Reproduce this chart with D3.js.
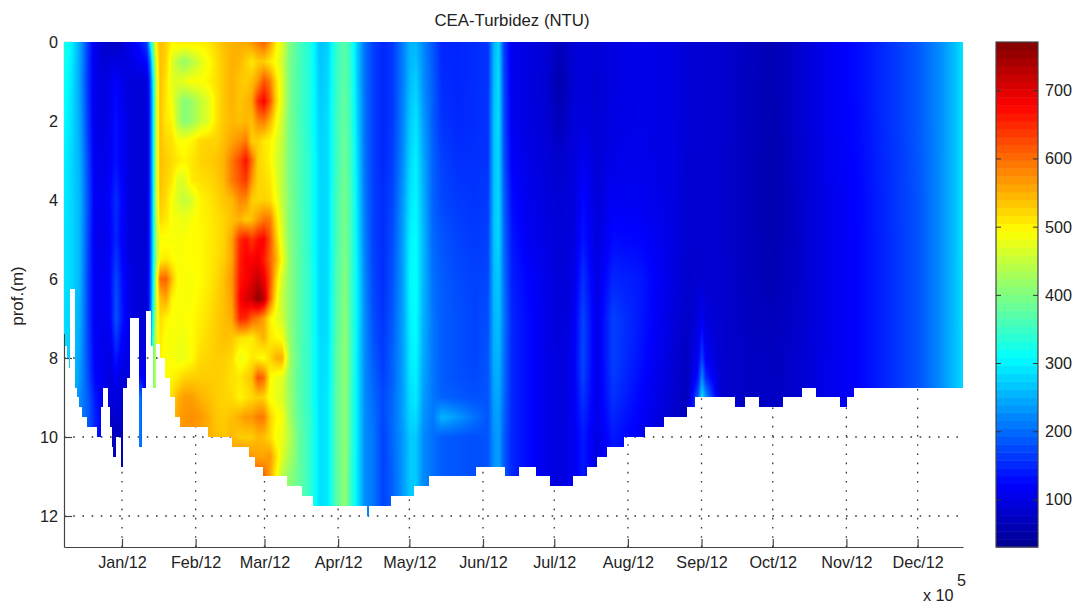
<!DOCTYPE html>
<html><head><meta charset="utf-8">
<script src="https://cdn.jsdelivr.net/npm/d3@7/dist/d3.min.js"></script>
<style>
html,body{margin:0;padding:0;background:#fff;}
#wrap{position:relative;width:1077px;height:606px;overflow:hidden;}
svg,canvas{position:absolute;left:0;top:0;}
text{font-family:"Liberation Sans",Arial,sans-serif;fill:#222;}
</style></head><body><div id="wrap"></div>
<script>
// ---- data: days are counted from 1 Jan 2012, depth in metres, values in NTU
const monthLabels = ["Jan/12","Feb/12","Mar/12","Apr/12","May/12","Jun/12","Jul/12","Aug/12","Sep/12","Oct/12","Nov/12","Dec/12"];
const monthDays = [0,31,60,91,121,152,182,213,244,274,305,335];
const depthTicks = [0,2,4,6,8,10,12];
const gridDepths = [2,4,6,8,10,12];
const colorTicks = [100,200,300,400,500,600,700];
const coarseDepths = [0,1,2,3,4,5,6,7,8,8.5,9,9.5,10,11,12];
const fineDepths = [0,.5,1,1.5,2,2.5,3,3.5,4,4.5,5,5.5,6,6.5,7,7.5,8,8.5,9,9.5,10,10.5,11,11.5,12];

const leftDays = [-24.4,-21.1,-17.7,-14.3,-11.4,-8,-5.1,-2.5,0,3.4,7.6,10.5];
const leftNtu = [
[330,320,310,300,295,290,290,285,285,285,285,285,285,285,285],
[300,290,285,280,280,280,280,275,270,270,265,260,260,260,260],
[245,240,245,250,255,255,255,250,240,235,225,220,220,220,220],
[165,160,165,175,180,175,170,170,175,180,190,190,190,190,190],
[105,105,105,110,115,110,115,115,120,125,140,150,150,150,150],
[85,100,100,105,110,105,110,110,110,110,115,115,115,115,115],
[80,105,110,115,125,120,125,120,100,95,90,75,70,70,70],
[75,125,135,135,155,150,175,185,140,115,100,85,70,70,70],
[85,105,115,115,125,120,135,140,110,95,85,75,65,65,65],
[110,95,95,95,95,95,100,100,100,100,100,100,100,100,100],
[135,92,90,90,90,90,90,92,100,130,215,220,220,220,220],
[165,95,90,90,90,90,92,92,95,100,105,105,105,105,105]];

const hotDays = [11.8,13.1,14.3,16,18.5,21.1,23.6,26.1,29.5,32.8,36.2,39.6,42.9,46.3,49.7,52.2,54.7,57.3,59.8,62.3,64.8,67.4,70.7];
const hotNtu = [
[290,200,170,165,165,165,165,165,165,165,165,165,170,170,180,190,200,220,240,250,260,260,260,260,260],
[400,340,300,290,290,290,290,290,290,290,290,290,300,310,330,360,380,380,380,380,380,380,380,380,380],
[500,470,440,440,440,440,440,440,440,430,420,410,440,450,450,460,460,460,460,460,460,460,460,460,460],
[540,540,540,540,540,540,540,540,535,520,490,500,600,540,520,510,500,500,500,500,500,500,500,500,500],
[530,525,515,510,510,520,530,525,520,510,490,510,610,560,500,490,490,490,500,520,520,520,520,520,520],
[500,470,475,485,500,515,520,510,490,490,490,495,540,500,490,490,490,500,520,540,540,540,540,540,540],
[510,440,470,440,440,490,510,470,465,485,490,490,490,490,490,485,480,510,550,560,560,560,560,560,560],
[510,415,480,405,405,490,500,470,450,480,490,490,490,490,490,485,480,525,565,570,570,570,570,570,570],
[510,440,490,420,420,500,510,510,465,490,495,495,490,490,495,495,495,530,565,575,570,570,570,570,570],
[505,470,490,450,450,520,525,515,500,500,495,495,495,500,505,510,520,530,550,570,560,560,560,560,560],
[510,490,500,470,470,525,530,520,510,505,505,505,505,510,515,520,525,530,540,555,550,550,550,550,550],
[525,515,515,510,510,525,535,530,520,515,515,515,520,525,530,530,530,530,530,535,540,540,540,540,540],
[540,535,535,535,535,540,550,545,535,525,525,530,540,540,540,540,530,525,525,530,535,540,540,540,540],
[550,550,550,550,545,560,590,590,545,540,560,560,570,565,555,535,520,515,520,540,545,560,560,560,560],
[555,545,535,535,540,575,630,620,580,550,650,660,665,680,655,515,480,510,500,555,530,590,600,600,600],
[555,530,530,545,545,590,670,640,580,530,670,680,680,705,650,510,490,525,510,570,530,580,600,600,600],
[570,510,540,560,540,530,600,570,530,540,640,680,700,720,610,505,510,540,520,570,530,570,610,610,610],
[590,530,570,650,580,530,525,525,525,570,670,690,720,760,590,530,500,620,530,590,545,560,620,600,600],
[610,530,620,680,590,510,515,520,525,595,680,660,690,730,560,550,490,600,525,590,540,560,610,600,600],
[570,510,590,620,550,500,500,510,520,590,620,610,625,610,505,510,520,500,490,530,520,570,560,560,560],
[510,490,520,530,500,480,470,480,490,520,540,560,530,510,480,500,550,480,480,500,490,520,500,500,500],
[470,460,470,470,455,450,445,445,450,460,470,490,460,450,460,490,555,475,465,490,480,470,445,445,445],
[400,395,395,395,395,395,395,395,400,400,405,410,410,410,410,415,425,415,420,425,440,430,410,400,400]];

const rightDays = [74.9,79.2,83.4,86.7,90.1,93.9,96.8,99.4,102.3,105.7,109.9,114.1,118.3,121.3,123.8,126.7,130.9,134.7,141.1,148.6,154.1,156.6,158.7,160.8,164.2,170.5,178.9,184.4,189.9,194.1,200,206.7,218.1,232,237.9,242.5,244.2,245.9,251.8,264.4,274.9,285.5,298.1,310.7,319.2,327.6,336,344.4,350.7,354];
const rightNtu = [
[360,360,360,365,365,370,370,370,370,370,370,375,380,380,380],
[330,330,330,335,335,335,340,340,340,340,340,345,345,345,345],
[265,270,275,280,280,280,280,280,285,285,285,285,285,285,285],
[275,280,285,285,285,285,285,285,290,290,295,295,295,295,295],
[345,345,350,350,355,355,360,365,370,370,370,370,370,370,370],
[375,380,385,390,395,400,405,410,415,415,415,415,415,415,415],
[330,335,340,345,350,350,350,350,350,350,345,345,345,340,340],
[265,265,270,275,280,285,290,290,285,285,285,285,285,285,285],
[205,205,205,205,210,215,220,225,225,225,225,225,225,225,225],
[170,170,170,170,170,170,175,180,190,195,200,205,210,210,210],
[150,150,150,150,155,155,155,160,165,170,175,175,170,170,170],
[165,165,165,170,175,180,185,190,195,195,200,200,200,195,195],
[215,215,220,225,235,240,240,240,240,240,240,240,235,235,235],
[255,260,270,280,290,300,305,300,295,290,285,280,270,270,270],
[255,275,290,300,305,310,312,310,305,300,295,285,270,270,270],
[225,230,240,250,255,260,260,255,250,245,240,235,225,225,225],
[185,190,190,195,195,200,205,210,210,210,210,210,205,205,205],
[150,155,160,170,175,185,190,190,190,190,195,255,190,190,190],
[150,150,152,158,165,172,178,182,182,182,188,235,185,185,185],
[155,155,155,158,160,165,170,172,172,176,182,205,180,180,180],
[160,160,160,160,165,170,175,180,185,185,185,185,185,185,185],
[255,260,265,265,265,265,260,255,250,245,240,235,230,230,230],
[280,285,285,280,280,280,270,265,255,250,245,240,240,240,240],
[170,175,180,185,195,200,205,210,205,205,200,195,190,190,190],
[108,110,112,120,130,140,145,150,150,150,150,150,150,150,150],
[100,100,100,105,110,115,125,130,130,130,130,130,130,130,130],
[90,85,88,92,95,100,105,105,105,105,105,105,105,105,105],
[70,55,65,82,88,90,90,92,95,95,95,95,95,95,95],
[88,88,92,95,95,95,100,105,110,110,110,110,110,110,110],
[95,95,98,112,128,138,158,172,175,170,160,150,140,140,140],
[90,88,88,90,92,95,100,105,105,105,105,105,100,100,100],
[100,100,102,105,115,130,150,170,170,165,160,150,140,140,140],
[105,105,105,108,112,125,140,140,135,130,125,120,115,115,115],
[100,100,100,100,100,100,100,95,90,88,85,82,80,80,80],
[90,90,90,88,86,85,82,78,72,70,70,70,70,70,70],
[88,88,88,86,85,85,85,95,115,135,190,190,190,190,190],
[88,88,88,86,85,85,85,115,170,225,290,290,290,290,290],
[86,86,86,85,85,85,85,95,115,150,230,230,230,230,230],
[85,85,85,85,85,85,85,85,85,85,85,85,85,85,85],
[72,70,70,68,68,68,70,72,75,75,75,75,75,75,75],
[62,62,60,58,58,60,62,68,72,72,75,75,75,75,75],
[85,85,85,82,80,80,80,82,85,85,85,85,85,85,85],
[112,112,112,110,108,108,108,108,108,108,108,108,108,108,108],
[132,132,130,128,126,125,125,125,125,125,125,125,125,125,125],
[150,150,150,148,146,145,145,145,145,145,145,145,145,145,145],
[168,168,168,165,165,165,165,165,165,165,165,165,165,165,165],
[190,190,190,188,186,186,186,186,186,186,186,186,186,186,186],
[225,225,225,225,225,225,225,225,225,225,225,225,225,225,225],
[262,262,262,262,262,262,262,262,262,262,262,262,262,262,262],
[290,290,290,290,290,290,285,285,280,280,280,280,280,280,280]];

const bottomDays = [-24.4,-23.8,-23.2,-22.3,-21.7,-19.8,-18.9,-18.1,-16.8,-14.7,-10.5,-8.8,-7.8,-5.7,-5.1,-4.4,-3.6,-2.7,-0.6,0.3,2.2,3.4,7,8.3,10.1,12.2,13.2,14.3,16,18.1,20.2,22.3,24.4,36.2,46.3,53.5,56,59.4,69.5,75.8,80.4,103,104.1,113.1,122.9,129.3,149,161.3,167.2,174.3,180.2,190,195.9,200.1,204,211.4,220.2,228.2,238,241.3,258.1,262.3,268.2,278.5,286.2,292.2,302.3,305.1,308.2];
const bottomDepth = [7.4,7.7,8,8.25,6.25,8.75,9,9.25,9.5,9.75,10,9.25,8.75,9.25,9.75,10.25,10.5,10,10.75,8.75,8.5,7,10.25,8.75,6.8,7.7,8.75,7.65,8,8.5,9,9.5,9.75,10,10.25,10.5,10.75,11,11.25,11.5,11.75,12,11.75,11.5,11.25,11,10.75,11,10.75,11,11.25,11,10.75,10.5,10.25,10,9.75,9.5,9.25,9,9.25,9,9.25,9,8.75,9,9.25,9,8.75];

// ---- layout
const W=1077,H=606,L=64,R=963,T=42,B=547,CL=996,CR=1038;
const x=d3.scaleLinear().domain([-24.42,354.1]).range([L,R]);
const y=d3.scaleLinear().domain([0,12.785]).range([T,B]);
const cy=d3.scaleLinear().domain([31,771.5]).range([B,T]);
const jetStops=[0,.125,.375,.625,.875,1].map(p=>31+740.5*p);
const jet=d3.scaleLinear().domain(jetStops).range(["#00008f","#0000ff","#00ffff","#ffff00","#ff0000","#800000"]).clamp(true);
const FONT=16.2;

const wrap=d3.select("#wrap");
const svg=wrap.append("svg").attr("width",W).attr("height",H);

// grid below the field
const grid=svg.append("g").attr("stroke","#333").attr("stroke-width",1.3).attr("stroke-dasharray","1.6 7.6");
grid.selectAll("line.v").data(monthDays).join("line").attr("class","v")
 .attr("x1",d=>x(d)).attr("x2",d=>x(d)).attr("y1",B).attr("y2",T);
grid.selectAll("line.h").data(gridDepths).join("line").attr("class","h")
 .attr("x1",L).attr("x2",R).attr("y1",d=>y(d)).attr("y2",d=>y(d));

// axes
const xa=d3.axisBottom(x).tickValues(monthDays).tickFormat((d,i)=>monthLabels[i]).tickSizeInner(-8).tickSizeOuter(0).tickPadding(9);
const xg=svg.append("g").attr("transform",`translate(0,${B})`).call(xa);
const ya=d3.axisLeft(y).tickValues(depthTicks).tickFormat(d3.format("d")).tickSizeInner(-8).tickSizeOuter(0).tickPadding(6);
const yg=svg.append("g").attr("transform",`translate(${L},0)`).call(ya);
[xg,yg].forEach(g=>{g.selectAll("path,line").attr("stroke","#444").attr("stroke-width",1.2);
  g.selectAll("text").attr("font-size",FONT).attr("font-family",'"Liberation Sans",Arial,sans-serif').attr("fill","#222");});

svg.append("text").attr("x",512).attr("y",26).attr("text-anchor","middle").attr("font-size",16.8).text("CEA-Turbidez (NTU)");
svg.append("text").attr("transform","translate(23,296) rotate(-90)").attr("text-anchor","middle").attr("font-size",17).text("prof.(m)");
svg.append("text").attr("x",923).attr("y",601).attr("font-size",FONT).text("x 10");
svg.append("text").attr("x",957).attr("y",586).attr("font-size",FONT).text("5");

// colour bar
const levels=d3.range(64).map(i=>31+740.5*i/64);
const cb=svg.append("g");
cb.selectAll("rect").data(levels).join("rect")
 .attr("x",CL).attr("width",CR-CL)
 .attr("y",d=>cy(d+740.5/64)).attr("height",d=>cy(d)-cy(d+740.5/64)+.5)
 .attr("fill",d=>jet(d+740.5/128));
cb.append("rect").attr("x",CL).attr("y",T).attr("width",CR-CL).attr("height",B-T).attr("fill","none").attr("stroke","#444").attr("stroke-width",1.2);
cb.selectAll("line.l").data(colorTicks).join("line").attr("class","l").attr("x1",CL).attr("x2",CL+5).attr("y1",d=>cy(d)).attr("y2",d=>cy(d)).attr("stroke","#333");
cb.selectAll("line.r").data(colorTicks).join("line").attr("class","r").attr("x1",CR-5).attr("x2",CR).attr("y1",d=>cy(d)).attr("y2",d=>cy(d)).attr("stroke","#333");
cb.selectAll("text").data(colorTicks).join("text").attr("x",1045).attr("y",d=>cy(d)+5.5).attr("font-size",FONT).text(d=>d);

// field on a canvas above the grid
const cw=R-L,ch=B-T;
const canvas=wrap.append("canvas").attr("width",cw).attr("height",ch).style("left",L+"px").style("top",T+"px");
const ctx=canvas.node().getContext("2d");
const columns=[
 ...leftDays.map((d,i)=>({day:d,depths:coarseDepths,vals:leftNtu[i]})),
 ...hotDays.map((d,i)=>({day:d,depths:fineDepths,vals:hotNtu[i]})),
 ...rightDays.map((d,i)=>({day:d,depths:coarseDepths,vals:rightNtu[i]}))];
const colDays=columns.map(c=>c.day);
const rowDepth=d3.range(ch).map(r=>y.invert(T+r+.5));
columns.forEach(c=>{const f=d3.scaleLinear().domain(c.depths).range(c.vals);c.profile=rowDepth.map(f);});
const lut=d3.range(0,801).map(v=>d3.rgb(jet(v)));
const img=ctx.createImageData(cw,ch);
for(let px=0;px<cw;px++){
  const day=x.invert(L+px+.5);
  let hi=d3.bisectRight(colDays,day);hi=Math.max(1,Math.min(colDays.length-1,hi));
  const a=columns[hi-1],b=columns[hi];
  const t=Math.max(0,Math.min(1,(day-a.day)/(b.day-a.day)));
  const bi=Math.max(0,d3.bisectRight(bottomDays,day)-1);
  const bot=bottomDepth[bi];
  for(let r=0;r<ch;r++){
    const k=(r*cw+px)*4;
    if(rowDepth[r]>bot){img.data[k+3]=0;continue;}
    const v=a.profile[r]*(1-t)+b.profile[r]*t;
    const c=lut[Math.max(0,Math.min(800,Math.round(v)))];
    img.data[k]=c.r;img.data[k+1]=c.g;img.data[k+2]=c.b;img.data[k+3]=255;
  }
}
ctx.putImageData(img,0,0);
</script></body></html>
